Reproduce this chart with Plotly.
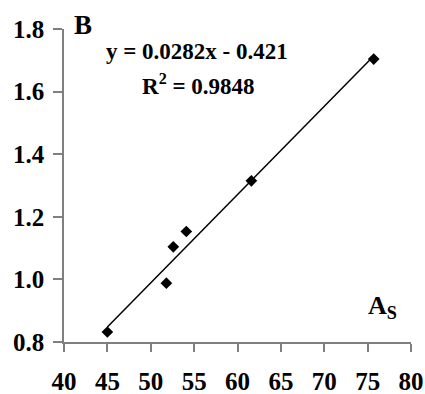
import plotly.graph_objects as go

# Data
as_values = [45.0, 51.8, 52.6, 54.1, 61.6, 75.7]
y_values = [0.832, 0.988, 1.104, 1.153, 1.315, 1.704]
slope = 0.0282
intercept = -0.421
x_ticks = [40, 45, 50, 55, 60, 65, 70, 75, 80]
y_ticks = [0.8, 1.0, 1.2, 1.4, 1.6, 1.8]

fit_x = [min(as_values), max(as_values)]
fit_y = [slope * v + intercept for v in fit_x]

FONT = "Liberation Serif"
AXC = "#7f7f7f"

fig = go.Figure()
fig.add_trace(go.Scatter(x=fit_x, y=fit_y, mode="lines",
                         line=dict(color="black", width=1.5), showlegend=False))
fig.add_trace(go.Scatter(x=as_values, y=y_values, mode="markers",
                         marker=dict(symbol="diamond", size=9, color="black"),
                         showlegend=False))

ann = dict(xref="paper", yref="paper", showarrow=False,
           xanchor="center", yanchor="middle")

fig.update_layout(
    width=425, height=394,
    margin=dict(l=64, r=14, t=29, b=52),
    plot_bgcolor="white", paper_bgcolor="white",
    font=dict(family=FONT, color="black"),
    xaxis=dict(range=[40, 80], tickvals=x_ticks, showgrid=False, zeroline=False,
               showline=True, linecolor=AXC, linewidth=1.5, automargin=False,
               ticks="outside", ticklen=8, tickcolor=AXC, tickwidth=1.5,
               tickfont=dict(family=FONT, size=25, color="black", weight="bold"),
               ticklabelstandoff=8),
    yaxis=dict(range=[0.8, 1.8], tickvals=y_ticks, tickformat=".1f", showgrid=False,
               zeroline=False, showline=True, linecolor=AXC, linewidth=1.5,
               automargin=False,
               ticks="outside", ticklen=9, tickcolor=AXC, tickwidth=1.5,
               tickfont=dict(family=FONT, size=25, color="black", weight="bold"),
               ticklabelstandoff=4),
    annotations=[
        dict(text="<b>B</b>", x=0.055, y=1.013,
             font=dict(family=FONT, size=27, color="black"), **ann),
        dict(text="<b>y = 0.0282x - 0.421</b>", x=0.383, y=0.927,
             font=dict(family=FONT, size=23, color="black"), **ann),
        dict(text="<b>R<sup>2</sup> = 0.9848</b>", x=0.388, y=0.824,
             font=dict(family=FONT, size=23, color="black"), **ann),
        dict(text="<b>A<sub>S</sub></b>", x=0.919, y=0.113,
             font=dict(family=FONT, size=26, color="black"), **ann),
    ],
)

fig.write_html(
    "out.html",
    config={"displayModeBar": False},
    post_script="document.body.style.margin='0';"
                "document.body.style.overflow='hidden';"
                "document.documentElement.style.overflow='hidden';",
)
